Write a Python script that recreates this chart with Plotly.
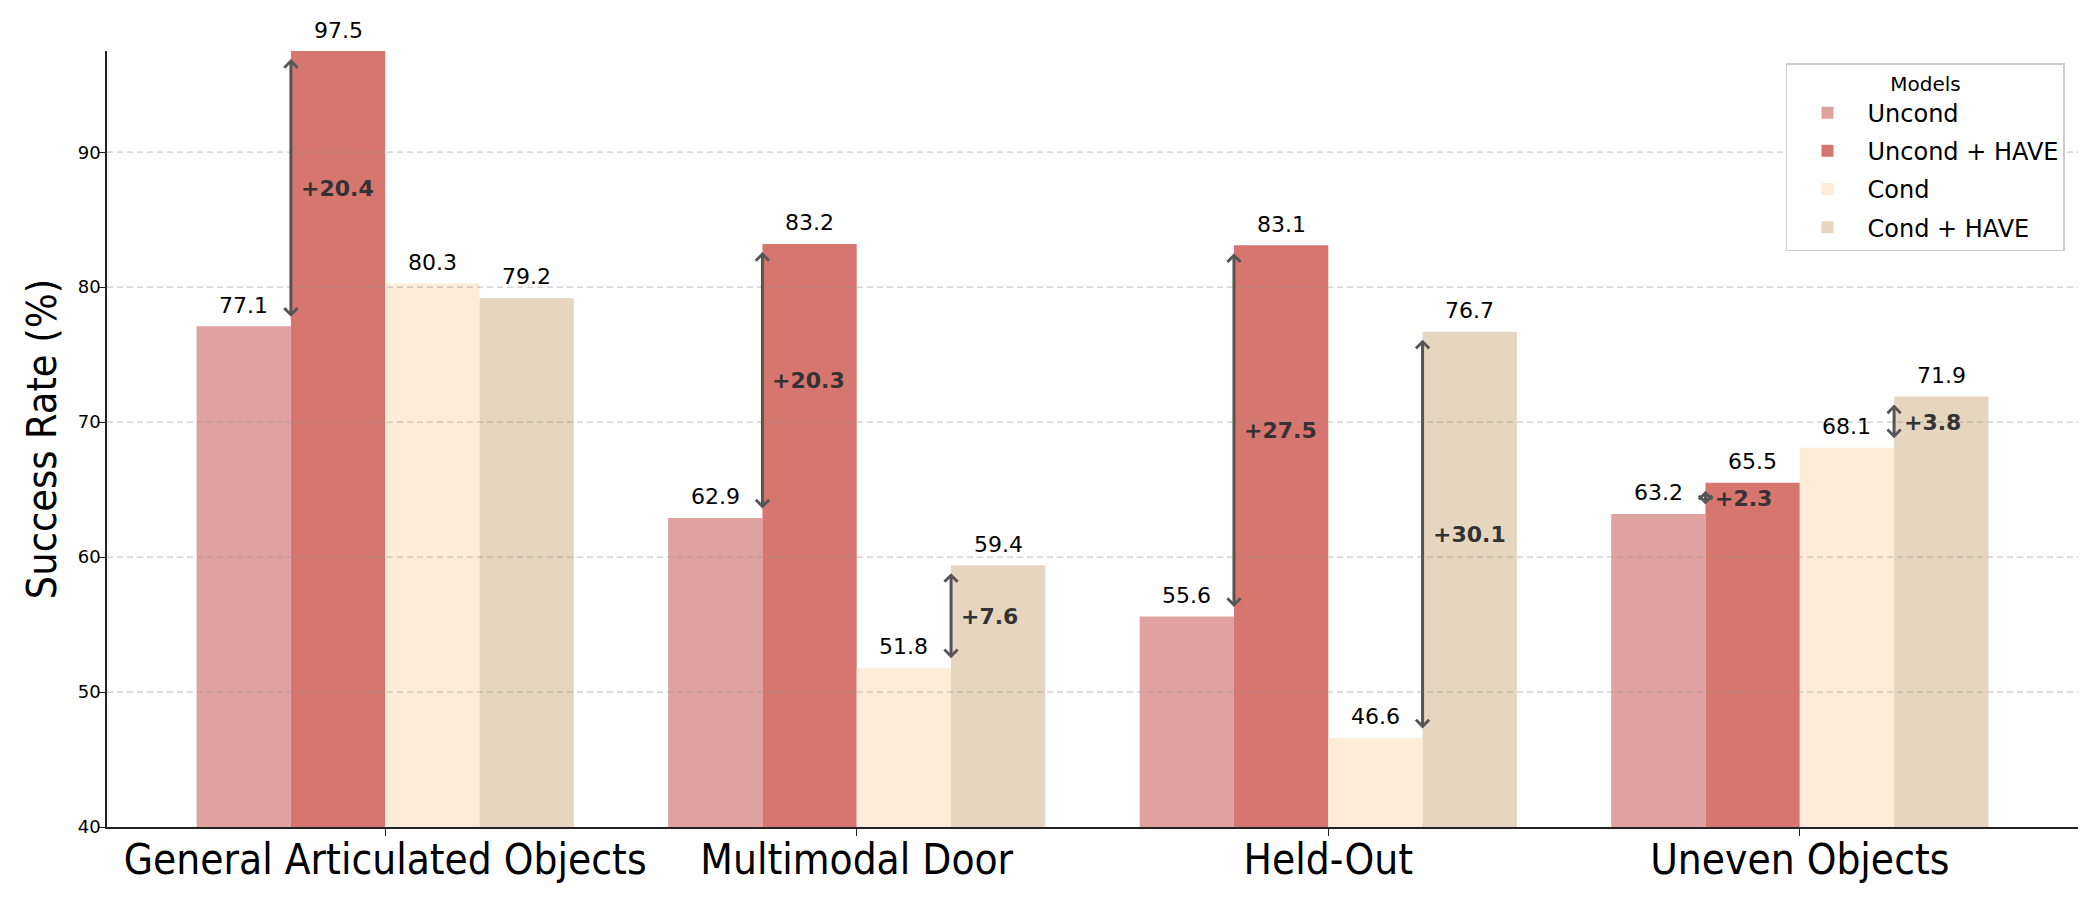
import plotly.graph_objects as go

categories = ["General Articulated Objects", "Multimodal Door", "Held-Out", "Uneven Objects"]
series_names = ["Uncond", "Uncond + HAVE", "Cond", "Cond + HAVE"]
uncond = [77.1, 62.9, 55.6, 63.2]
uncond_have = [97.5, 83.2, 83.1, 65.5]
cond = [80.3, 51.8, 46.6, 68.1]
cond_have = [79.2, 59.4, 76.7, 71.9]
y_ticks = [40, 50, 60, 70, 80, 90]

series_values = [uncond, uncond_have, cond, cond_have]
colors = ["#E0A1A1", "#D6766F", "#FDECD7", "#E6D6BF"]

FONT = "DejaVu Sans"
FONT_C = "DejaVu Sans Condensed, DejaVu Sans"
BAR_W = 0.2

fig = go.Figure()
for j, (name, vals, col) in enumerate(zip(series_names, series_values, colors)):
    fig.add_trace(go.Bar(
        x=categories, y=vals, name=name, legendgroup=name,
        marker=dict(color=col, line=dict(width=0)),
    ))

annotations = []
# value labels
for j, vals in enumerate(series_values):
    for i, v in enumerate(vals):
        annotations.append(dict(
            x=i + (j - 1.5) * BAR_W, y=v, xref="x", yref="y",
            text=f"{v:.1f}", showarrow=False, yanchor="middle", yshift=21,
            font=dict(family=FONT, size=22, color="black"),
        ))

# improvement arrows
pairs = [(uncond, uncond_have, -BAR_W), (cond, cond_have, BAR_W)]
for base, new, off in pairs:
    for i, (a, b) in enumerate(zip(base, new)):
        d = b - a
        if d <= 0:
            continue
        xp = i + off
        annotations.append(dict(
            x=xp, y=b, ax=xp, ay=a, xref="x", yref="y", axref="x", ayref="y",
            text="", showarrow=True, arrowside="end+start",
            arrowhead=4, startarrowhead=4, arrowsize=0.85, startarrowsize=0.85,
            arrowwidth=3, arrowcolor="#555555", standoff=8, startstandoff=8,
        ))
        annotations.append(dict(
            x=xp, y=(a + b) / 2, xref="x", yref="y", text=f"<b>+{d:.1f}</b>",
            showarrow=False, xanchor="left", yanchor="middle", xshift=8,
            font=dict(family=FONT, size=22, color="#333333"),
        ))

shapes = []
for t in y_ticks[1:]:
    shapes.append(dict(
        type="line", xref="paper", yref="y", x0=0, x1=1, y0=t, y1=t,
        line=dict(color="rgba(150,150,150,0.5)", width=1.2, dash="6px,4px"),
        layer="above",
    ))

fig.update_layout(
    width=2100, height=900,
    margin=dict(l=107, r=22, t=51, b=73, autoexpand=False),
    paper_bgcolor="white", plot_bgcolor="white",
    barmode="group", bargap=0.2, bargroupgap=0,
    font=dict(family=FONT, color="black"),
    annotations=annotations, shapes=shapes,
    legend=dict(
        title=dict(text="Models", side="top center", font=dict(family=FONT, size=20)),
        font=dict(family=FONT, size=24),
        x=0.9934, y=0.9845, xanchor="right", yanchor="top",
        bordercolor="#cccccc", borderwidth=1.5, bgcolor="rgba(255,255,255,0.85)",
        tracegroupgap=4, itemwidth=70,
    ),
    xaxis=dict(
        range=[-0.59, 3.59], showline=True, linecolor="#222222", linewidth=1.5,
        ticks="outside", ticklen=7, tickcolor="#222222", tickwidth=1.3,
        tickfont=dict(family=FONT_C, size=42), showgrid=False, zeroline=False,
        automargin=False, ticklabelstandoff=-12,
    ),
    yaxis=dict(
        range=[40, 97.5], tickvals=y_ticks, showline=True, linecolor="#222222",
        linewidth=1.5, ticks="outside", ticklen=7, tickcolor="#222222", tickwidth=1.3,
        tickfont=dict(family=FONT, size=18), showgrid=False, zeroline=False,
        ticklabelstandoff=-6, automargin=False,
        title=dict(text="Success Rate (%)", font=dict(family=FONT_C, size=41), standoff=8),
    ),
)

fig.write_html("out.html")
